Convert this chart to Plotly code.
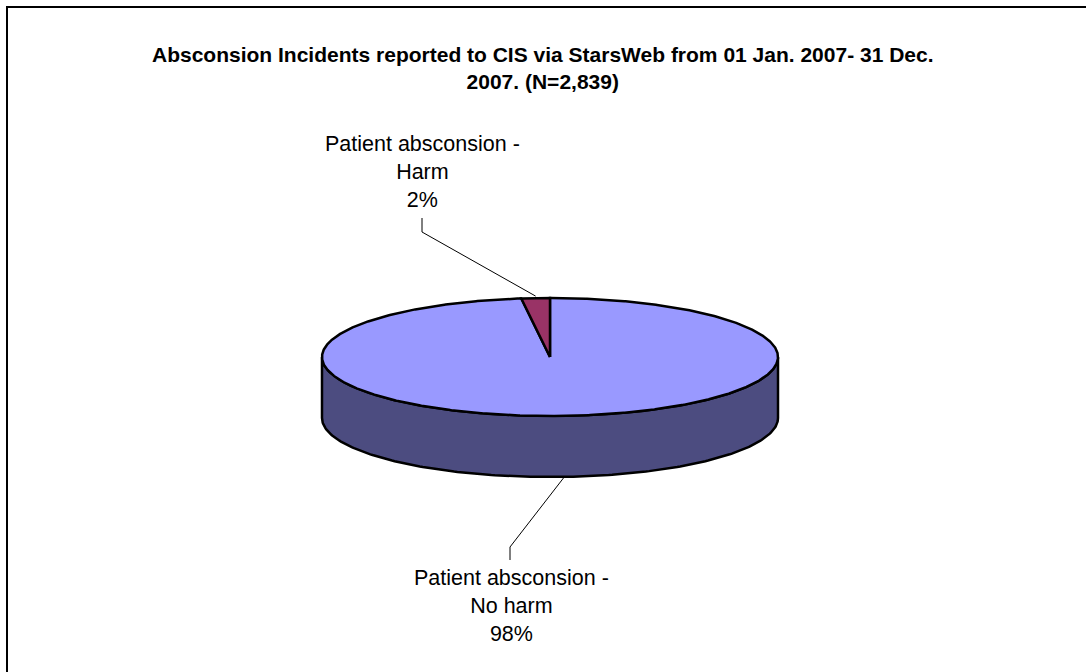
import numpy as np
import plotly.graph_objects as go

# ---------------- data ----------------
categories = ["Patient absconsion - No harm", "Patient absconsion - Harm"]
label_lines = [["Patient absconsion -", "No harm"], ["Patient absconsion -", "Harm"]]
values = [2782, 57]
top_colors = ["#9999FF", "#993366"]
side_colors = ["#4C4C80", "#4D1A33"]
title_lines = ["Absconsion Incidents reported to CIS via StarsWeb from 01 Jan. 2007- 31 Dec.",
               "2007. (N=2,839)"]

# ---------------- geometry (pixel layout) ----------------
W, H = 1086, 672
CX, CY, RA, RB, DEPTH = 550, 357, 228, 59, 61
FONT = "Liberation Sans, Arial, sans-serif"
label_pos = [(511, 606), (422, 172)]          # label centres
elbows = [(510, 560, 547), (422, 218, 232)]   # x, y_start, y_end of vertical leader part


def rim(theta_deg, dy=0.0):
    t = np.radians(theta_deg)
    return CX + RA * np.sin(t), CY + dy - RB * np.cos(t)


total = float(sum(values))
fracs = [v / total for v in values]
starts = np.concatenate([[0.0], np.cumsum(fracs)[:-1]]) * 360.0
ends = np.cumsum(fracs) * 360.0

fig = go.Figure()

# side walls (front half visible: 90..270 deg)
for i in range(len(values)):
    a0, a1 = max(starts[i], 90.0), min(ends[i], 270.0)
    if a1 <= a0:
        continue
    th = np.linspace(a0, a1, 200)
    xt, yt = rim(th)
    xb, yb = rim(th[::-1], DEPTH)
    fig.add_trace(go.Scatter(
        x=np.concatenate([xt, xb, xt[:1]]), y=np.concatenate([yt, yb, yt[:1]]),
        mode="lines", fill="toself", fillcolor=side_colors[i],
        line=dict(color="black", width=2.5), hoverinfo="skip", showlegend=False))

# top faces
for i in range(len(values)):
    th = np.linspace(starts[i], ends[i], max(20, int((ends[i] - starts[i]) * 3)))
    xs, ys = rim(th)
    fig.add_trace(go.Scatter(
        x=np.concatenate([[CX], xs, [CX]]), y=np.concatenate([[CY], ys, [CY]]),
        mode="lines", fill="toself", fillcolor=top_colors[i],
        line=dict(color="black", width=2.5), name=categories[i],
        hoverinfo="name", showlegend=False))

# leader lines and labels
for i in range(len(values)):
    mid = (starts[i] + ends[i]) / 2.0
    front = 90 < (mid % 360) < 270
    ex, ey = rim(mid, DEPTH if front else 0.0)
    if not front:
        ey -= 2
    lx, ly0, ly1 = elbows[i]
    fig.add_trace(go.Scatter(
        x=[lx, lx, ex], y=[ly0, ly1, ey], mode="lines",
        line=dict(color="black", width=1), hoverinfo="skip", showlegend=False))
    pct = f"{round(fracs[i] * 100):.0f}%"
    fig.add_annotation(
        x=label_pos[i][0], y=label_pos[i][1], xref="x", yref="y",
        text="<br>".join(label_lines[i] + [pct]), showarrow=False,
        xanchor="center", yanchor="middle", align="center",
        font=dict(family=FONT, size=21.5, color="black"))

# title
fig.add_annotation(
    x=543, y=68, xref="x", yref="y",
    text="<br>".join(f"<b>{t}</b>" for t in title_lines), showarrow=False,
    xanchor="center", yanchor="middle", align="center",
    font=dict(family=FONT, size=21, color="black"))

# chart area frame
fig.add_shape(type="rect", xref="x", yref="y", x0=7, y0=7, x1=W + 10, y1=H + 10,
              line=dict(color="black", width=2), fillcolor="rgba(0,0,0,0)", layer="above")

fig.update_layout(
    width=W, height=H, autosize=False,
    margin=dict(l=0, r=0, t=0, b=0, pad=0),
    paper_bgcolor="white", plot_bgcolor="white",
    xaxis=dict(range=[0, W], visible=False, fixedrange=True),
    yaxis=dict(range=[H, 0], visible=False, fixedrange=True),
    font=dict(family=FONT),
)

fig.write_html("out.html", config={"displayModeBar": False},
               post_script="document.body.style.margin='0';document.body.style.overflow='hidden';")
